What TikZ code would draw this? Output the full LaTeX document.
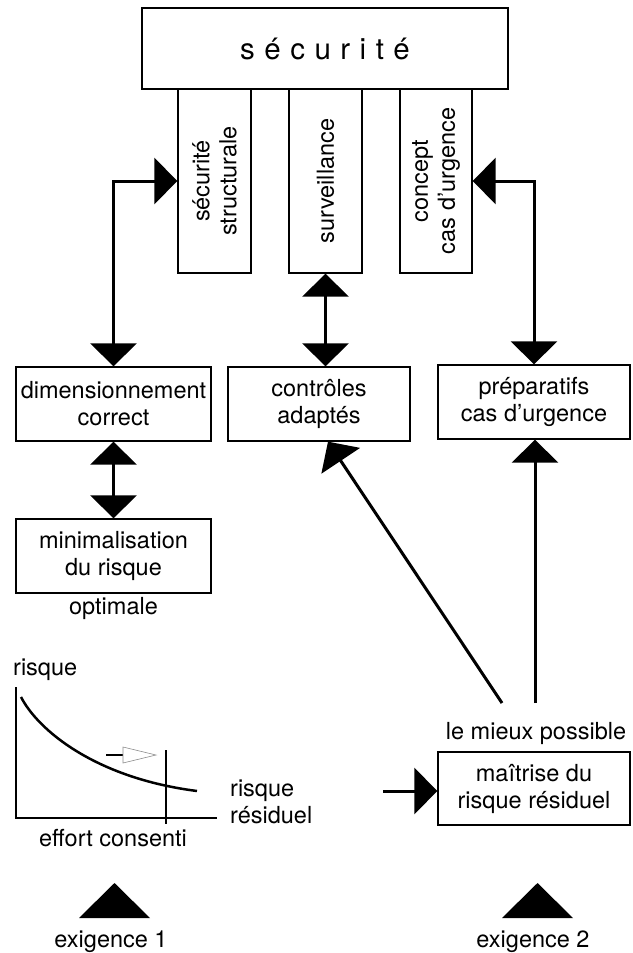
\documentclass[tikz,border=0pt]{standalone}
\usepackage{fontspec}
\setmainfont{TeX Gyre Heros}
\usetikzlibrary{arrows.meta,calc}

\newcommand{\lsp}{\kern 9.5pt}

\begin{document}
\begin{tikzpicture}[x=1pt,y=-1pt,
  txt/.style={font=\fontsize{23.5}{27}\selectfont, align=center, inner sep=0pt},
  box/.style={draw, line width=1.3pt, fill=white, inner sep=0pt,
    minimum width=#1, minimum height=74pt},
  vbox/.style={draw, line width=1.3pt, fill=white, inner sep=0pt,
    minimum width=#1, minimum height=184pt},
  conn/.style={line width=3pt, -{Triangle[length=23pt,width=46pt]}},
  dconn/.style={line width=3pt,
    {Triangle[length=23pt,width=46pt]}-{Triangle[length=23pt,width=46pt]}},
  axis/.style={line width=2pt},
]
\useasboundingbox (0,0) rectangle (632,953);

% top block and its three pillars
\node[draw, line width=1.3pt, minimum width=366pt, minimum height=81pt, inner sep=0pt,
  font=\fontsize{29.5}{33}\selectfont] (sec) at (325,48.5)
  {s\lsp é\lsp c\lsp u\lsp r\lsp i\lsp t\lsp é};
\node[vbox=73pt] (v1) at (214.5,181) {};
\node[vbox=73pt] (v2) at (325.5,181) {};
\node[vbox=72pt] (v3) at (436,181) {};
\node[txt, rotate=90] (t1) at (v1) {sécurité\\structurale};
\node[txt, rotate=90] (t2) at (v2) {surveillance};
\node[txt, rotate=90] (t3) at (v3) {concept\\cas d’urgence};

% measures
\node[box=195pt, txt] (dim) at (113.5,404) {dimensionnement\\correct};
\node[box=182pt, txt] (ctrl) at (319,404) {contrôles\\adaptés};
\node[box=192pt, txt] (prep) at (534,402) {préparatifs\\cas d’urgence};
\node[box=195pt, txt] (min) at (113.5,556) {minimalisation\\du risque};
\node[txt] (opt) at (113.5,608) {optimale};

\node[box=192pt, txt, minimum height=73pt] (mait) at (534,788.5) {maîtrise du\\risque résiduel};
\node[txt] (mieux) at (536,733) {le mieux possible};

% connectors
\draw[dconn] (v1.west) -| (dim.north);
\draw[dconn] (v3.east) -| (prep.north);
\draw[dconn] (v2.south) -- (v2.south |- ctrl.north);
\draw[dconn] (dim.south) -- (min.north);

\coordinate (d1) at (502,703);
\coordinate (d2) at (535,703);
\coordinate (d3) at (383,791);
\draw[conn] (d1) -- ($(ctrl.south)+(9,0)$);
\draw[conn] (d2) -- (d2 |- prep.south);
\draw[conn] (d3) -- (d3 -| mait.west);

% risk / effort graph
\draw[axis] (16,687) -- (16,818) -- (217,818);
\draw[line width=2.5pt] (21,697) .. controls (38,730) and (95,778) .. (197,791);
\draw[axis] (166,750) -- (166,824);
\draw[line width=2.5pt] (106,755) -- (123,755);
\draw[line width=0.6pt, draw=black!45] (123,747) -- (156,755) -- (123,763) -- cycle;
\node[txt, anchor=west] (risque) at (13,670) {risque};
\node[txt, anchor=west, align=left] (resid) at (230,802) {risque\\résiduel};
\node[txt] (effort) at (113,838) {effort consenti};

% requirements
\fill (79,918) -- (150,918) -- (114.5,883) -- cycle;
\fill (502,918) -- (573,918) -- (537.5,883) -- cycle;
\node[txt] (ex1) at (111,942) {exigence 1};
\node[txt] (ex2) at (533,942) {exigence 2};
\end{tikzpicture}
\end{document}
